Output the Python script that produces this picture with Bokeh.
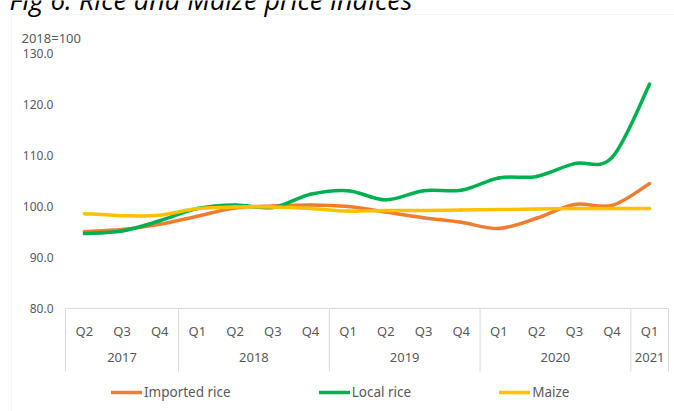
import numpy as np
from bokeh.plotting import figure
from bokeh.models import (Range1d, FixedTicker, NumeralTickFormatter, LinearAxis,
                          Legend, LegendItem, Label, BoxAnnotation, ColumnDataSource)
from bokeh.embed import file_html
from bokeh.resources import INLINE

# ---------------- data ----------------
years = ["2017", "2017", "2017",
         "2018", "2018", "2018", "2018",
         "2019", "2019", "2019", "2019",
         "2020", "2020", "2020", "2020",
         "2021"]
quarters = ["Q2", "Q3", "Q4",
            "Q1", "Q2", "Q3", "Q4",
            "Q1", "Q2", "Q3", "Q4",
            "Q1", "Q2", "Q3", "Q4",
            "Q1"]
imported_rice = [95.1, 95.5, 96.5, 98.1, 99.7, 100.1, 100.3, 100.0,
                 98.9, 97.8, 96.9, 95.7, 97.7, 100.4, 100.2, 104.5]
local_rice = [94.7, 95.2, 97.2, 99.6, 100.3, 99.8, 102.4, 103.1,
              101.3, 103.1, 103.2, 105.6, 105.9, 108.4, 109.6, 124.0]
maize = [98.6, 98.2, 98.3, 99.6, 99.9, 99.9, 99.6, 99.1,
         99.2, 99.2, 99.3, 99.4, 99.5, 99.6, 99.6, 99.6]
y_ticks = [80, 90, 100, 110, 120, 130]

series = [("Imported rice", imported_rice, "#ED7D31"),
          ("Local rice", local_rice, "#00B050"),
          ("Maize", maize, "#FFC000")]

# ---------------- layout (pixels) ----------------
W, H = 674, 411
PL, PR, PT, PB = 65, 668, 53, 308          # plot area inside the canvas
GREY = "#595959"
LINE_GREY = "#D9D9D9"
FONT = "Noto Sans"

n = len(quarters)
ux = (PR - PL) / n                          # px per category
uy = (PB - PT) / (y_ticks[-1] - y_ticks[0])  # px per index point
x_start, x_end = -PL / ux, (W - PL) / ux
y_end = y_ticks[-1] + PT / uy
y_start = y_ticks[0] - (H - PB) / uy


def px_y(py):
    return y_end - py / uy


p = figure(x_range=Range1d(x_start, x_end), y_range=Range1d(y_start, y_end),
           width=W, height=H, output_backend="svg", toolbar_location=None,
           x_axis_location=None, y_axis_location=None,
           min_border=0, min_border_left=0, min_border_right=0,
           min_border_top=0, min_border_bottom=0)
p.outline_line_color = None
p.xgrid.grid_line_color = None
p.ygrid.grid_line_color = None
p.background_fill_color = "white"
p.border_fill_color = "white"

# category positions (centre of each quarter slot)
xs = np.arange(n) + 0.5
groups = []
for i, yr in enumerate(years):
    if not groups or groups[-1][0] != yr:
        groups.append([yr, i, i])
    else:
        groups[-1][2] = i
group_centres = [(a + b) / 2 + 0.5 for _, a, b in groups]
bounds = [a for _, a, _ in groups] + [n]

# y axis
ya = LinearAxis(fixed_location=0, bounds=(y_ticks[0], y_ticks[-1]),
                ticker=FixedTicker(ticks=y_ticks),
                formatter=NumeralTickFormatter(format="0.0"))
ya.axis_line_color = None
ya.major_tick_line_color = None
ya.minor_tick_line_color = None
ya.major_tick_out = 0
ya.major_tick_in = 0
ya.major_label_standoff = 12
ya.major_label_text_font = FONT
ya.major_label_text_font_size = "12px"
ya.major_label_text_color = GREY
p.add_layout(ya, "left")

# x axis: quarters
qa = LinearAxis(fixed_location=y_ticks[0], bounds=(0, n),
                ticker=FixedTicker(ticks=list(xs)),
                major_label_overrides={float(x): q for x, q in zip(xs, quarters)})
qa.axis_line_color = LINE_GREY
qa.axis_line_width = 1
qa.major_tick_line_color = None
qa.minor_tick_line_color = None
qa.major_tick_out = 0
qa.major_tick_in = 0
qa.major_label_standoff = 13
qa.major_label_text_font = FONT
qa.major_label_text_font_size = "13px"
qa.major_label_text_color = GREY
p.add_layout(qa, "below")

# x axis: years
ga = LinearAxis(fixed_location=y_ticks[0], bounds=(0, n),
                ticker=FixedTicker(ticks=group_centres),
                major_label_overrides={float(c): g[0] for c, g in zip(group_centres, groups)})
ga.axis_line_color = None
ga.major_tick_line_color = None
ga.minor_tick_line_color = None
ga.major_tick_out = 0
ga.major_tick_in = 0
ga.major_label_standoff = 44
ga.major_label_text_font = FONT
ga.major_label_text_font_size = "13px"
ga.major_label_text_color = GREY
p.add_layout(ga, "below")

# year separators
p.segment(x0=bounds, y0=[y_ticks[0]] * len(bounds), x1=bounds,
          y1=[px_y(371)] * len(bounds), line_color=LINE_GREY, line_width=1)

# smoothed lines (cubic Bezier through the data points, Catmull-Rom style)
renderers = []
for name, vals, color in series:
    y = np.asarray(vals, dtype=float)
    xp = np.concatenate([[xs[0]], xs, [xs[-1]]])
    yp = np.concatenate([[y[0]], y, [y[-1]]])
    cx0 = xp[1:n] + (xp[2:n + 1] - xp[0:n - 1]) / 6.0
    cy0 = yp[1:n] + (yp[2:n + 1] - yp[0:n - 1]) / 6.0
    cx1 = xp[2:n + 1] - (xp[3:n + 2] - xp[1:n]) / 6.0
    cy1 = yp[2:n + 1] - (yp[3:n + 2] - yp[1:n]) / 6.0
    src = ColumnDataSource(dict(x0=xs[:-1], y0=y[:-1], x1=xs[1:], y1=y[1:],
                                cx0=cx0, cy0=cy0, cx1=cx1, cy1=cy1))
    r = p.bezier(x0="x0", y0="y0", x1="x1", y1="y1", cx0="cx0", cy0="cy0",
                 cx1="cx1", cy1="cy1", source=src, line_color=color,
                 line_width=3.5, line_cap="round")
    renderers.append((name, r))

# chart area border
p.add_layout(BoxAnnotation(left=11, right=W + 20, top=H - 14, bottom=-20,
                           left_units="screen", right_units="screen",
                           top_units="screen", bottom_units="screen",
                           fill_alpha=0, line_color=LINE_GREY, line_width=1))

# legend
legend = Legend(items=[LegendItem(label=nm, renderers=[r]) for nm, r in renderers],
                orientation="horizontal", location=(111, H - 401),
                border_line_color=None, background_fill_alpha=0,
                padding=0, margin=0, spacing=88, glyph_width=31, glyph_height=16,
                label_standoff=2, label_text_font=FONT,
                label_text_font_size="13.5px", label_text_color=GREY,
                label_height=16)
p.add_layout(legend, "center")

# titles
p.add_layout(Label(x=9, y=H + 1, x_units="screen", y_units="screen",
                   text="Fig 6: Rice and Maize price indices",
                   text_font="Open Sans", text_font_style="italic",
                   text_font_size="27px", text_color="black",
                   text_baseline="alphabetic"))
p.add_layout(Label(x=21, y=H - 37, x_units="screen", y_units="screen",
                   text="2018=100", text_font=FONT, text_font_size="13px",
                   text_color=GREY, text_baseline="middle"))

open("out.html", "w").write(file_html(p, INLINE))
